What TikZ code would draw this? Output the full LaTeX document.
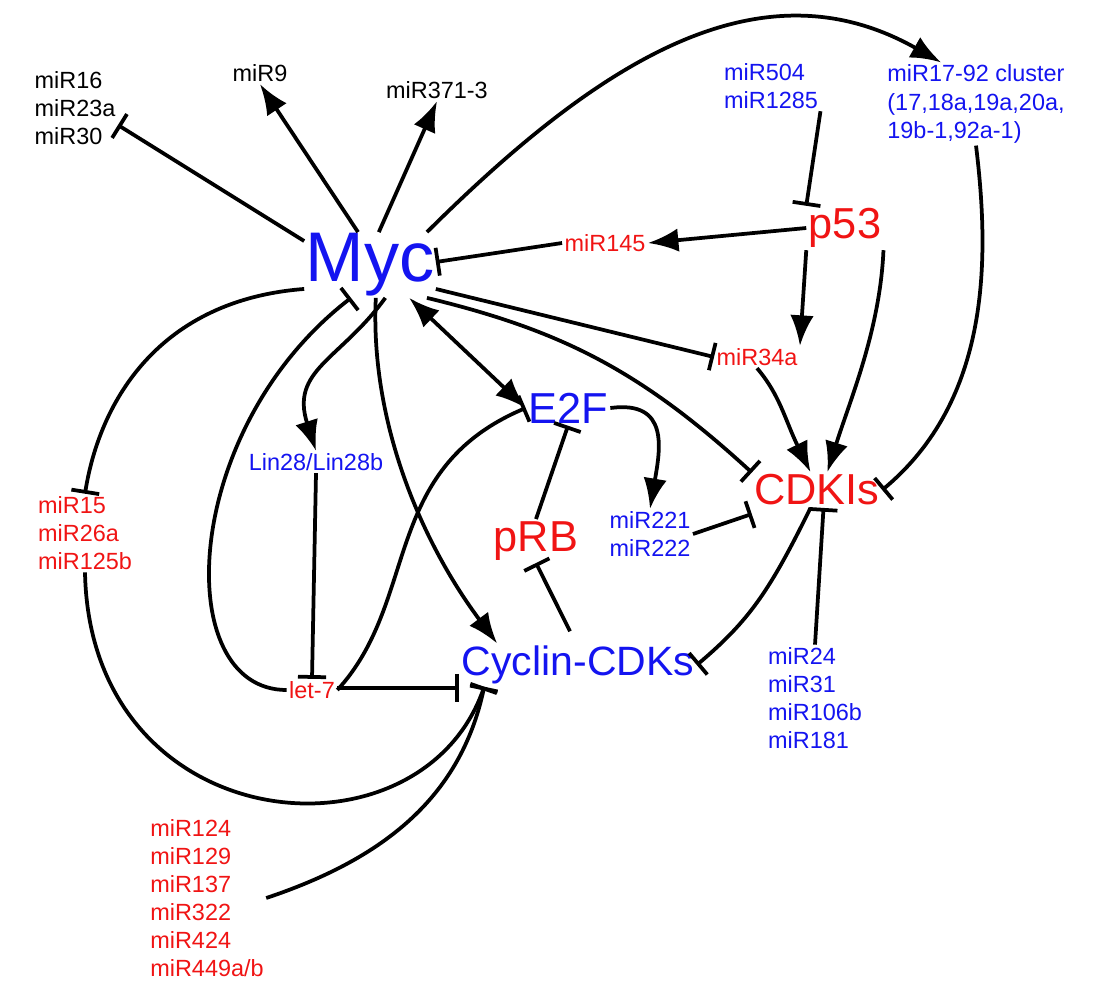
\documentclass[tikz,border=0pt]{standalone}
\usepackage{fontspec}
\setmainfont{Liberation Sans}
\usetikzlibrary{arrows.meta,calc}
\definecolor{mblue}{RGB}{20,20,240}
\definecolor{mred}{RGB}{240,20,20}
\begin{document}
\begin{tikzpicture}[x=0.03cm,y=-0.03cm,
 lbl/.style={font=\fontsize{20}{24}\selectfont,align=left,inner sep=2pt},
 big/.style={font=\fontsize{37}{40}\selectfont,inner sep=2pt},
 act/.style={line width=3.2pt,-{Latex[length=26pt,width=20pt]}},
 inh/.style={line width=3.2pt,-{Bar[width=24pt,line width=3.2pt]}},
 both/.style={line width=3.2pt,{Latex[length=26pt,width=20pt]}-{Latex[length=26pt,width=20pt]}}]
\useasboundingbox (0,0) rectangle (1101,1000);
\node[lbl] (m16) at (75,108) {miR16\\miR23a\\miR30};
\node[lbl] (m9) at (260,73) {miR9};
\node[lbl] (m371) at (437,90) {miR371-3};
\node[lbl,text=mblue] (m17) at (976,104) {miR17-92 cluster\\(17,18a,19a,20a,\\19b-1,92a-1)};
\node[lbl,text=mblue] (m504) at (771,86) {miR504\\miR1285};
\node[font=\fontsize{60}{62}\selectfont,text=mblue,inner sep=1pt] (myc) at (370,265) {Myc};
\node[lbl,text=mred] (m145) at (605,243) {miR145};
\node[big,text=mred] (p53) at (845,228) {p53};
\node[lbl,text=mred] (m34) at (757,357) {miR34a};
\node[big,text=mblue] (e2f) at (568,408) {E2F};
\node[big,text=mred] (cdki) at (817,490) {CDKIs};
\node[lbl,text=mblue] (lin) at (316,462) {Lin28/Lin28b};
\node[lbl,text=mred] (m15) at (85,533) {miR15\\miR26a\\miR125b};
\node[big,text=mred] (prb) at (536,541) {pRB};
\node[lbl,text=mblue] (m221) at (650,534) {miR221\\miR222};
\node[lbl,text=mblue] (m24) at (815,698) {miR24\\miR31\\miR106b\\miR181};
\node[lbl,text=mred] (let7) at (312,690) {let-7};
\node[big,text=mblue,font=\fontsize{35}{38}\selectfont] (cyc) at (578,665) {Cyclin-CDKs};
\node[lbl,text=mred] (m124) at (207,898) {miR124\\miR129\\miR137\\miR322\\miR424\\miR449a/b};

\draw[act] (myc.110) -- (m9.south);
\draw[act] (myc.75) -- (m371.south);
\draw[inh] (myc.160) -- (m16.east|-0,125) ;
\draw[act] (myc.30) .. controls (600,60) and (760,-40) .. (m17.130);
\draw[inh] (m504.south east) -- (p53.north west);
\draw[act] (p53.west) -- (m145.east);
\draw[inh] (m145.west) -- ($(myc.east)+(0,-3)$);
\draw[act] (p53.south west) -- (m34.north east);
\draw[act] (p53.-30) .. controls (880,330) and (850,400) .. (cdki.60);
\draw[inh] (myc.-20) -- (m34.west);
\draw[inh] (myc.-30) .. controls (560,330) and (640,370) .. (cdki.165);
\draw[act] (m34.south) .. controls (780,395) and (785,420) .. (cdki.110);
\draw[inh] (m17.south) .. controls (990,260) and (990,400) .. (cdki.east);
\draw[both] (myc.-40) -- (e2f.west);
\draw[act] (e2f.east) .. controls (670,400) and (660,450) .. (m221.north);
\draw[inh] (m221.east) -- (cdki.west|-0,514);
\draw[inh] (prb.north) -- (e2f.south);
\draw[inh] ($(cyc.north)+(-8,-12)$) -- (prb.south);
\draw[inh] (cdki.-110) .. controls (770,590) and (750,620) .. (cyc.east);
\draw[inh] (m24.north) -- (cdki.-70);
\draw[act] (myc.-80) .. controls (370,420) and (420,540) .. (cyc.165);
\draw[act] (myc.-65) .. controls (340,360) and (290,370) .. (lin.north);
\draw[inh] (lin.south) -- (let7.north);
\draw[inh] (let7.west) .. controls (170,690) and (180,430) .. (myc.-120);
\draw[inh] (let7.east) .. controls (420,600) and (380,470) .. (e2f.west);
\draw[inh] (let7.east|-0,688) -- (cyc.west|-0,688);
\draw[inh] (myc.200) .. controls (160,300) and (100,400) .. (m15.north);
\draw[inh] (m15.south) .. controls (90,840) and (420,870) .. ($(cyc.south west)+(25,0)$);
\draw[inh] (m124.east) .. controls (380,860) and (460,800) .. ($(cyc.south west)+(25,0)$);
\end{tikzpicture}
\end{document}
